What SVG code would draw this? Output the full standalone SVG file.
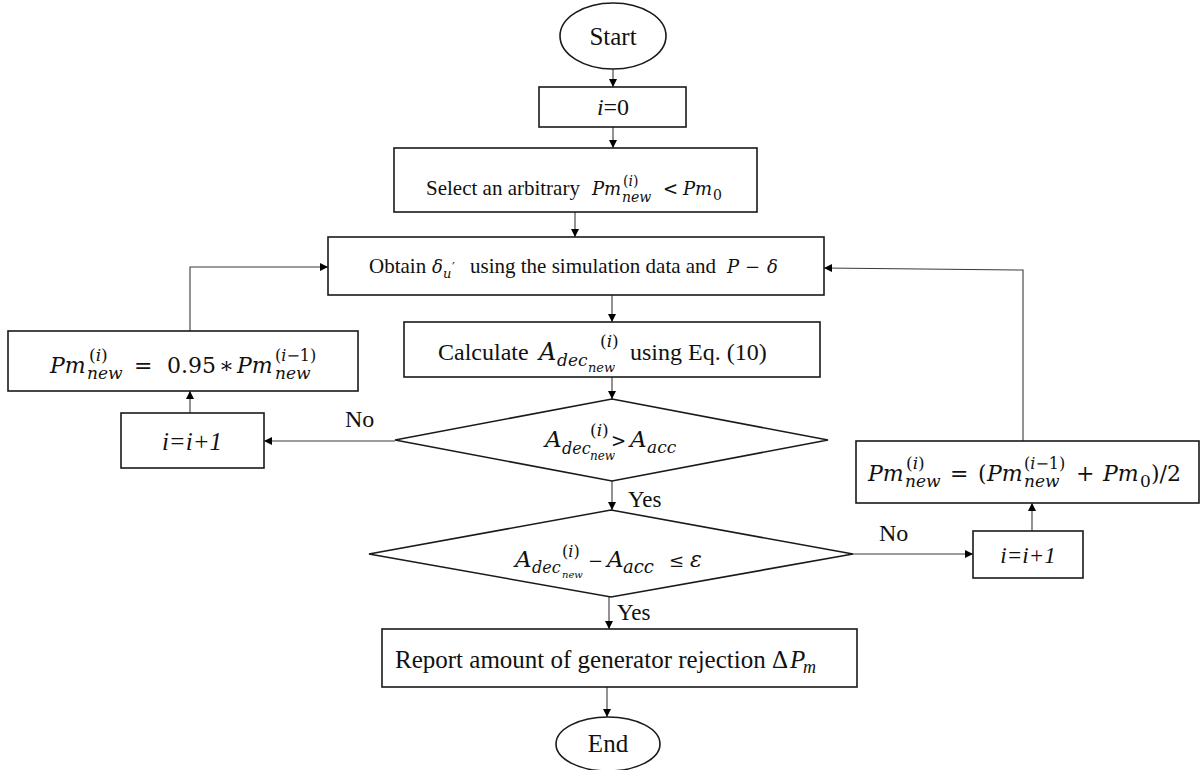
<svg xmlns="http://www.w3.org/2000/svg" width="1204" height="770" viewBox="0 0 1204 770">
  <style>
    .box { fill: #ffffff; stroke: #1a1a1a; stroke-width: 1.6; }
    .wire { fill: none; stroke: #3a3a3a; stroke-width: 1.1; }
    .tx { font-family: "Liberation Serif", "Times New Roman", serif; fill: #111111; }
    .ti { font-family: "Liberation Serif", "Times New Roman", serif; font-style: italic; fill: #111111; }
    .mi { font-family: "DejaVu Serif", serif; font-style: italic; fill: #111111; }
    .mu { font-family: "DejaVu Serif", serif; font-style: normal; fill: #111111; }
    .up { font-style: normal; }
  </style>
  <defs>
    <marker id="arrow" viewBox="0 0 10 10" refX="10" refY="5" markerWidth="9" markerHeight="8" markerUnits="userSpaceOnUse" orient="auto">
      <path d="M0,0 L10,5 L0,10 z" fill="#000000"/>
    </marker>
  </defs>
  <rect width="1204" height="770" fill="#ffffff"/>

  <!-- connectors -->
  <g id="connectors">
    <line class="wire" x1="613" y1="69" x2="613" y2="87" marker-end="url(#arrow)"/>
    <line class="wire" x1="613" y1="127" x2="613" y2="148" marker-end="url(#arrow)"/>
    <line class="wire" x1="575" y1="212" x2="575" y2="237" marker-end="url(#arrow)"/>
    <line class="wire" x1="612" y1="295" x2="612" y2="322" marker-end="url(#arrow)"/>
    <line class="wire" x1="612" y1="377" x2="612" y2="399" marker-end="url(#arrow)"/>
    <line class="wire" x1="612" y1="481" x2="612" y2="510" marker-end="url(#arrow)"/>
    <line class="wire" x1="609" y1="597" x2="609" y2="629" marker-end="url(#arrow)"/>
    <line class="wire" x1="607" y1="687" x2="607" y2="717" marker-end="url(#arrow)"/>
    <!-- left loop: No branch of first decision -->
    <line class="wire" x1="395" y1="441" x2="264" y2="441" marker-end="url(#arrow)"/>
    <line class="wire" x1="190" y1="413" x2="190" y2="391" marker-end="url(#arrow)"/>
    <polyline class="wire" points="190,331 190,267 328,267" marker-end="url(#arrow)"/>
    <!-- right loop: No branch of second decision -->
    <line class="wire" x1="853" y1="554" x2="973" y2="554" marker-end="url(#arrow)"/>
    <line class="wire" x1="1032" y1="531" x2="1032" y2="503" marker-end="url(#arrow)"/>
    <polyline class="wire" points="1023,441 1023,270 824,268" marker-end="url(#arrow)"/>
    <!-- branch labels -->
    <text class="tx" x="345" y="427" font-size="24">No</text>
    <text class="tx" x="879" y="541" font-size="24">No</text>
    <text class="tx" x="628" y="507" font-size="23">Yes</text>
    <text class="tx" x="617" y="620" font-size="23">Yes</text>
  </g>

  <g id="start">
    <ellipse class="box" cx="613" cy="36" rx="53" ry="33"/>
    <text class="tx" x="613" y="45" font-size="25" text-anchor="middle">Start</text>
  </g>

  <g id="init">
    <rect class="box" x="539" y="87" width="147" height="40"/>
    <text class="tx" x="613" y="115" font-size="24" text-anchor="middle"><tspan font-style="italic">i</tspan>=0</text>
  </g>

  <g id="select">
    <rect class="box" x="394" y="148" width="363" height="64"/>
    <text class="tx" x="426" y="195" font-size="21">Select an arbitrary</text>
    <text class="mi" x="592" y="195" font-size="18">Pm</text>
    <text class="mi" x="623" y="186" font-size="14"><tspan class="up">(</tspan>i<tspan class="up">)</tspan></text>
    <text class="mi" x="622" y="202" font-size="14">new</text>
    <text class="mu" x="663" y="195" font-size="18">&lt;</text>
    <text class="mi" x="683" y="195" font-size="18">Pm</text>
    <text class="mu" x="713" y="200" font-size="14">0</text>
  </g>

  <g id="obtain">
    <rect class="box" x="328" y="237" width="496" height="58"/>
    <text class="tx" x="369" y="273" font-size="21">Obtain</text>
    <text class="mi" x="432" y="273" font-size="18">δ</text>
    <text class="mi" x="443" y="278" font-size="13">u</text>
    <text class="mu" x="452" y="272" font-size="13">′</text>
    <text class="tx" x="470" y="273" font-size="21">using the simulation data and</text>
    <text class="mi" x="727" y="273" font-size="18">P</text>
    <text class="mu" x="745" y="273" font-size="18">−</text>
    <text class="mi" x="767" y="273" font-size="18">δ</text>
  </g>

  <g id="calculate">
    <rect class="box" x="404" y="322" width="416" height="55"/>
    <text class="tx" x="438" y="360" font-size="24">Calculate</text>
    <text class="mi" x="539" y="360" font-size="24">A</text>
    <text class="mi" x="557" y="366" font-size="17">dec</text>
    <text class="mi" x="588" y="372" font-size="13">new</text>
    <text class="mi" x="600" y="347" font-size="17"><tspan class="up">(</tspan>i<tspan class="up">)</tspan></text>
    <text class="tx" x="630" y="360" font-size="24">using Eq. (10)</text>
  </g>

  <g id="check-area">
    <polygon class="box" points="612,399 828,440 612,481 395,440"/>
    <text class="mi" x="545" y="447" font-size="23">A</text>
    <text class="mi" x="562" y="454" font-size="16">dec</text>
    <text class="mi" x="590" y="460" font-size="12">new</text>
    <text class="mi" x="590" y="436" font-size="17"><tspan class="up">(</tspan>i<tspan class="up">)</tspan></text>
    <text class="mu" x="611" y="447" font-size="18">&gt;</text>
    <text class="mi" x="630" y="447" font-size="23">A</text>
    <text class="mi" x="647" y="453" font-size="17">acc</text>
  </g>

  <g id="check-margin">
    <polygon class="box" points="611,510 853,554 611,597 369,554"/>
    <text class="mi" x="515" y="567" font-size="23">A</text>
    <text class="mi" x="532" y="573" font-size="16">dec</text>
    <text class="mi" x="562" y="578" font-size="10">new</text>
    <text class="mi" x="562" y="557" font-size="16"><tspan class="up">(</tspan>i<tspan class="up">)</tspan></text>
    <text class="mu" x="588" y="567" font-size="18">−</text>
    <text class="mi" x="607" y="567" font-size="23">A</text>
    <text class="mi" x="623" y="573" font-size="18">acc</text>
    <text class="mu" x="669" y="567" font-size="18">≤</text>
    <text class="mi" x="690" y="567" font-size="22">ε</text>
  </g>

  <g id="decrease-pm">
    <rect class="box" x="8" y="331" width="350" height="60"/>
    <text class="mi" x="50" y="373" font-size="22">Pm</text>
    <text class="mi" x="89" y="361" font-size="17"><tspan class="up">(</tspan>i<tspan class="up">)</tspan></text>
    <text class="mi" x="87" y="379" font-size="17">new</text>
    <text class="mu" x="134" y="373" font-size="22">=</text>
    <text class="mu" x="167" y="373" font-size="22">0.95</text>
    <text class="mu" x="219" y="373" font-size="22">∗</text>
    <text class="mi" x="237" y="373" font-size="22">Pm</text>
    <text class="mi" x="275" y="379" font-size="17">new</text>
    <text class="mi" x="275" y="361" font-size="16"><tspan class="up">(</tspan>i<tspan class="up">−1)</tspan></text>
  </g>

  <g id="step-left">
    <rect class="box" x="121" y="413" width="143" height="55"/>
    <text class="ti" x="192" y="450" font-size="25" text-anchor="middle">i=i+1</text>
  </g>

  <g id="step-right">
    <rect class="box" x="973" y="531" width="110" height="47"/>
    <text class="ti" x="1028" y="563" font-size="23" text-anchor="middle">i=i+1</text>
  </g>

  <g id="bisect-pm">
    <rect class="box" x="856" y="441" width="343" height="62"/>
    <text class="mi" x="868" y="481" font-size="22">Pm</text>
    <text class="mi" x="906" y="469" font-size="17"><tspan class="up">(</tspan>i<tspan class="up">)</tspan></text>
    <text class="mi" x="905" y="487" font-size="17">new</text>
    <text class="mu" x="950" y="481" font-size="22">=</text>
    <text class="mu" x="978" y="481" font-size="22">(</text>
    <text class="mi" x="987" y="481" font-size="22">Pm</text>
    <text class="mi" x="1024" y="487" font-size="17">new</text>
    <text class="mi" x="1024" y="469" font-size="16"><tspan class="up">(</tspan>i<tspan class="up">−1)</tspan></text>
    <text class="mu" x="1076" y="481" font-size="22">+</text>
    <text class="mi" x="1103" y="481" font-size="22">Pm</text>
    <text class="mu" x="1140" y="487" font-size="17">0</text>
    <text class="mu" x="1151" y="481" font-size="22">)/2</text>
  </g>

  <g id="report">
    <rect class="box" x="382" y="629" width="475" height="58"/>
    <text class="tx" x="395" y="668" font-size="25">Report amount of generator rejection</text>
    <text class="tx" x="772" y="668" font-size="25">Δ</text>
    <text class="ti" x="790" y="668" font-size="25">P</text>
    <text class="ti" x="803" y="673" font-size="18">m</text>
  </g>

  <g id="end">
    <ellipse class="box" cx="608" cy="744" rx="52" ry="27"/>
    <text class="tx" x="608" y="752" font-size="25" text-anchor="middle">End</text>
  </g>
</svg>
